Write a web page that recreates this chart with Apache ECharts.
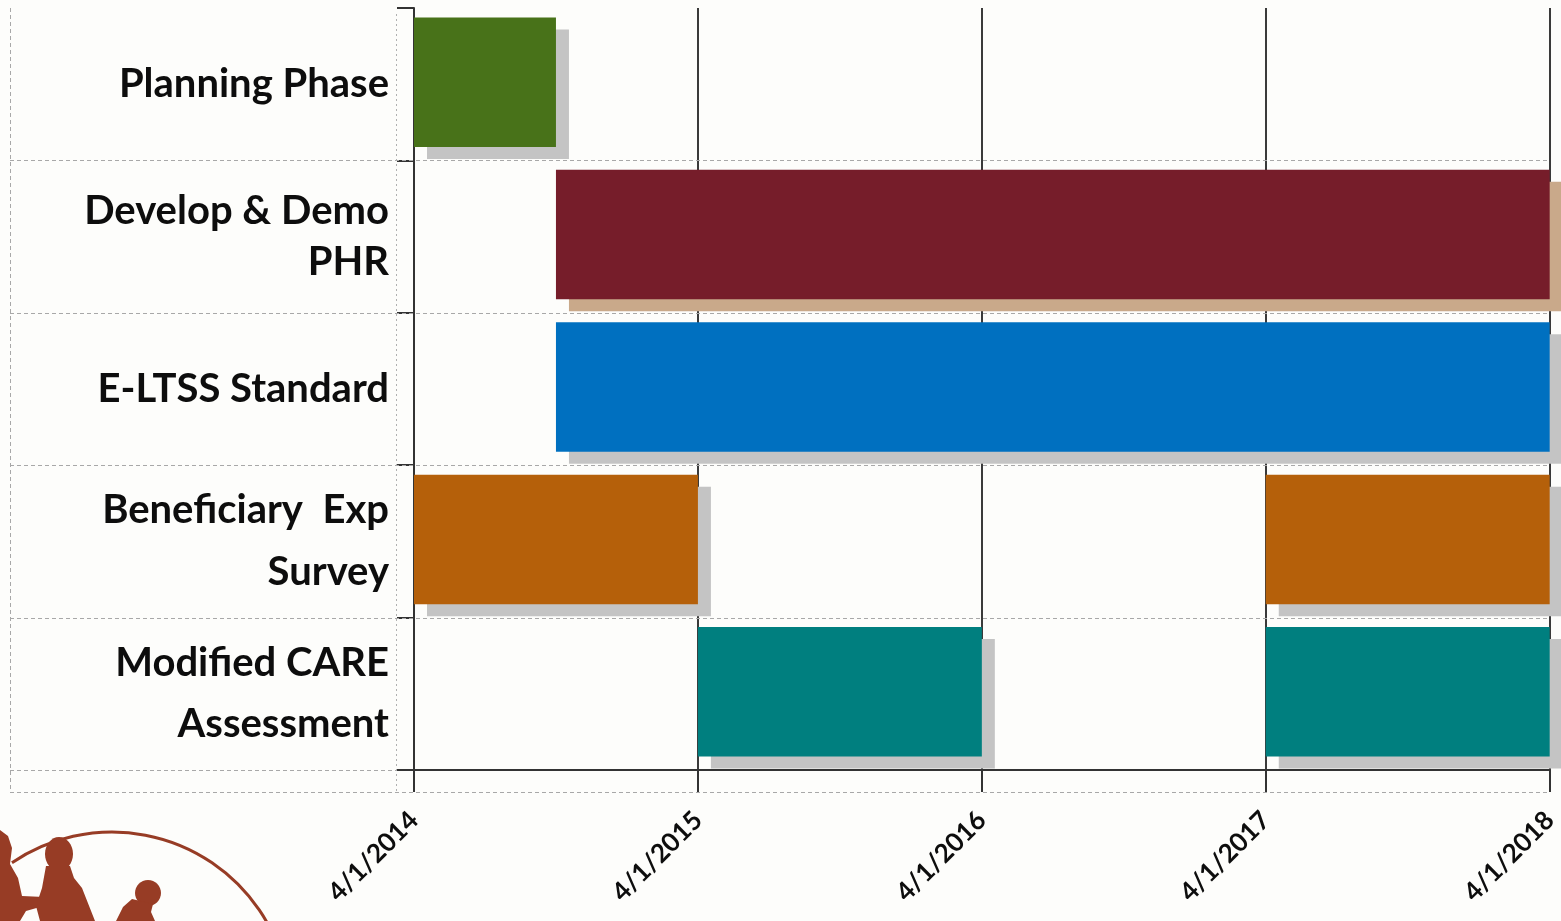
<!DOCTYPE html>
<html>
<head>
<meta charset="utf-8">
<title>Project Timeline</title>
<script src="https://cdn.jsdelivr.net/npm/echarts@6/dist/echarts.min.js"></script>
<style>
  html, body { margin: 0; padding: 0; background: #fdfdfb; }
  #chart { width: 1561px; height: 921px; }
</style>
</head>
<body>
<div id="chart"></div>
<script>
// Task rows, top to bottom
const tasks = [
  'Planning Phase',
  'Develop & Demo\nPHR',
  'E-LTSS Standard',
  'Beneficiary  Exp\nSurvey',
  'Modified CARE\nAssessment'
];

// Date axis ticks
const dateTicks = ['4/1/2014', '4/1/2015', '4/1/2016', '4/1/2017', '4/1/2018'];

// Phases: task index, start date, end date
const phaseTask  = [0, 1, 2, 3, 3, 4, 4];
const phaseStart = ['4/1/2014', '10/1/2014', '10/1/2014', '4/1/2014', '4/1/2017', '4/1/2015', '4/1/2017'];
const phaseEnd   = ['10/1/2014', '4/1/2018', '4/1/2018', '4/1/2015', '4/1/2018', '4/1/2016', '4/1/2018'];

// Colours per task
const taskColors  = ['#487219', '#761d2a', '#0070c0', '#b5600a', '#007f7f'];
const shadowColors = ['#c4c4c4', '#c9a98a', '#c4c4c4', '#c4c4c4', '#c4c4c4'];
// Line spacing of each row label
const labelLineHeights = [44, 51, 44, 62, 61];

// Months elapsed since the first tick date
function toMonths(s) {
  const p = s.split('/').map(Number);
  const b = dateTicks[0].split('/').map(Number);
  return (p[2] - b[2]) * 12 + (p[0] - b[0]) + (p[1] - b[1]) / 30;
}
const spanMonths = toMonths(dateTicks[dateTicks.length - 1]);

const phaseData = phaseTask.map((t, i) => [t, toMonths(phaseStart[i]), toMonths(phaseEnd[i])]);

const FONT = 'Lato';
const chart = echarts.init(document.getElementById('chart'));

const richStyles = {};
labelLineHeights.forEach((lh, i) => {
  richStyles['r' + i] = { fontFamily: FONT, fontWeight: 'bold', fontSize: 40, color: '#0d0d0d', lineHeight: lh, align: 'right' };
});

chart.setOption({
  backgroundColor: '#fdfdfb',
  animation: false,
  grid: { left: 414, right: 10, top: 8, bottom: 151 },
  xAxis: {
    type: 'value',
    min: 0,
    max: spanMonths,
    interval: 12,
    axisLine: { show: true, lineStyle: { color: '#333', width: 2 } },
    axisTick: { show: true, length: 22, lineStyle: { color: '#333', width: 2 } },
    splitLine: { show: true, lineStyle: { color: '#3a3a3a', width: 2, type: 'solid' } },
    axisLabel: {
      rotate: 45,
      margin: 46,
      fontFamily: FONT,
      fontWeight: 'bold',
      fontSize: 26,
      color: '#0d0d0d',
      formatter: function (v) { return dateTicks[Math.round(v / 12)] || ''; }
    }
  },
  yAxis: {
    type: 'category',
    inverse: true,
    data: tasks,
    axisLine: { show: true, lineStyle: { color: '#333', width: 2 } },
    axisTick: { show: true, length: 17, lineStyle: { color: '#333', width: 2 } },
    splitLine: { show: false },
    axisLabel: {
      margin: 25,
      formatter: function (v, i) {
        return v.split('\n').map(l => '{r' + i + '|' + l + '}').join('\n');
      },
      rich: richStyles
    }
  },
  series: [{
    type: 'custom',
    z: 3,
    clip: false,
    data: phaseData,
    encode: { x: [1, 2], y: 0 },
    renderItem: function (params, api) {
      const cat = api.value(0);
      const p0 = api.coord([api.value(1), cat]);
      const p1 = api.coord([api.value(2), cat]);
      const h = api.size([0, 1])[1] * 0.85;
      const x = p0[0], y = p0[1] - h / 2 - 2, w = p1[0] - p0[0];
      return {
        type: 'group',
        children: [
          { type: 'rect', shape: { x: x + 13, y: y + 12, width: w, height: h },
            style: { fill: shadowColors[cat] } },
          { type: 'rect', shape: { x: x, y: y, width: w, height: h },
            style: { fill: taskColors[cat] } }
        ]
      };
    }
  }]
});

// Label table rules and logo, placed from the axes' own scales
const xL = chart.convertToPixel({ xAxisIndex: 0 }, 0);
const xR = chart.convertToPixel({ xAxisIndex: 0 }, spanMonths);
const c0 = chart.convertToPixel({ yAxisIndex: 0 }, 0);
const c1 = chart.convertToPixel({ yAxisIndex: 0 }, 1);
const band = c1 - c0;
const yTop = c0 - band / 2;
const yBottom = yTop + band * tasks.length;
const tableLeft = 10, tableBottom = yBottom + 22;
const rule = { stroke: '#a8a8a8', lineWidth: 1, lineDash: [4, 3] };
const els = [];
for (let i = 1; i < tasks.length; i++) {
  const y = Math.round(yTop + band * i) + 0.5;
  els.push({ type: 'line', z: 1, shape: { x1: tableLeft, y1: y, x2: xR, y2: y }, style: rule });
}
els.push({ type: 'line', z: 1, shape: { x1: tableLeft, y1: yBottom + 0.5, x2: xL - 17, y2: yBottom + 0.5 }, style: rule });
els.push({ type: 'line', z: 1, shape: { x1: tableLeft, y1: tableBottom + 0.5, x2: xR, y2: tableBottom + 0.5 }, style: rule });
els.push({ type: 'line', z: 1, shape: { x1: tableLeft + 0.5, y1: yTop, x2: tableLeft + 0.5, y2: tableBottom }, style: rule });
els.push({ type: 'line', z: 1, shape: { x1: xL - 17.5, y1: yTop + 6, x2: xL - 17.5, y2: tableBottom }, style: { stroke: '#b0b0b0', lineWidth: 1, lineDash: [2, 3] } });

// Logo: arc with silhouettes
const brown = '#973c25';
els.push({ type: 'arc', z: 1, shape: { cx: 112, cy: 1010, r: 178, startAngle: Math.PI * 1.31, endAngle: Math.PI * 1.84, clockwise: true },
  style: { stroke: brown, lineWidth: 3, fill: null } });
els.push({ type: 'polygon', z: 2, shape: { points: [[0, 830], [8, 836], [12, 848], [10, 864], [18, 878], [22, 896], [44, 897], [47, 905], [26, 911], [20, 921], [0, 921]] }, style: { fill: brown } });
els.push({ type: 'ellipse', z: 2, shape: { cx: 59, cy: 854, rx: 14, ry: 17 }, style: { fill: brown } });
els.push({ type: 'polygon', z: 2, shape: { points: [[46, 866], [70, 866], [74, 878], [82, 888], [95, 921], [40, 921], [36, 906], [42, 888]] }, style: { fill: brown } });
els.push({ type: 'ellipse', z: 2, shape: { cx: 148, cy: 893, rx: 13, ry: 13 }, style: { fill: brown } });
els.push({ type: 'polygon', z: 2, shape: { points: [[132, 899], [153, 904], [151, 912], [155, 921], [116, 921], [123, 907]] }, style: { fill: brown } });

chart.setOption({ graphic: { elements: els } });
</script>
</body>
</html>
